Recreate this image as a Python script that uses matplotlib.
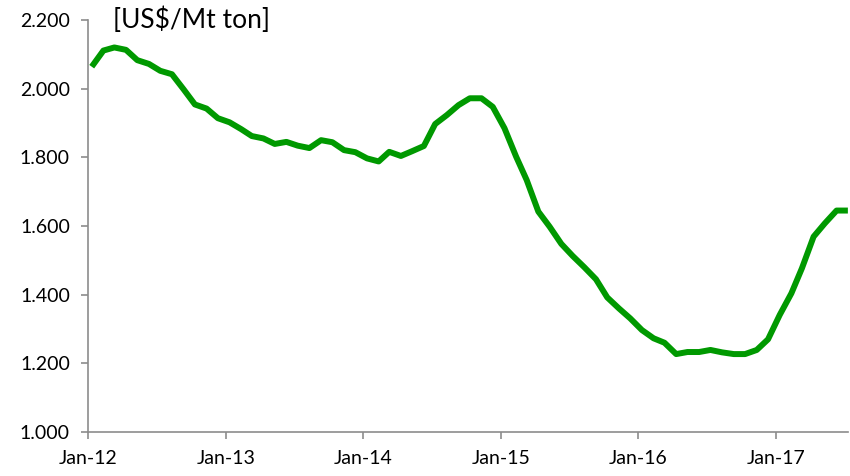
import pandas as pd
import matplotlib.pyplot as plt
import matplotlib.dates as mdates
from matplotlib.ticker import FuncFormatter

# monthly price, Jan-12 .. Jul-17
START = '2012-01-01'
prices = [
    2064, 2111, 2120, 2113, 2083, 2072, 2052, 2042, 1998, 1954, 1942, 1914,
    1902, 1882, 1862, 1855, 1839, 1845, 1834, 1827, 1850, 1844, 1821, 1815,
    1797, 1788, 1816, 1804, 1818, 1833, 1897, 1923, 1952, 1972, 1972, 1947,
    1885, 1802, 1734, 1642, 1598, 1548, 1513, 1480, 1445, 1392, 1360, 1331,
    1297, 1273, 1260, 1227, 1233, 1233, 1239, 1232, 1227, 1227, 1239, 1270,
    1341, 1404, 1477, 1569, 1608, 1645, 1645,
]
dates = pd.date_range(START, periods=len(prices), freq='MS') + pd.Timedelta(days=10)
y_ticks = [1000, 1200, 1400, 1600, 1800, 2000, 2200]
unit_label = '[US$/Mt ton]'

plt.rcParams['font.family'] = ['Lato', 'DejaVu Sans']

fig = plt.figure(figsize=(8.5, 4.76), dpi=100)
ax = fig.add_axes([0.1035, 0.0924, 0.894, 0.8656])

ax.plot(dates, prices, color='#009900', lw=4.3, solid_joinstyle='round',
        solid_capstyle='butt')

ax.set_ylim(1000, 2200)
ax.set_yticks(y_ticks)
ax.yaxis.set_major_formatter(FuncFormatter(lambda v, p: f'{v:,.0f}'.replace(',', '.')))

ax.set_xlim(pd.Timestamp(START), dates[-1])
ax.xaxis.set_major_locator(mdates.YearLocator())
ax.xaxis.set_major_formatter(mdates.DateFormatter('%b-%y'))

for s in ['top', 'right']:
    ax.spines[s].set_visible(False)
for s in ['left', 'bottom']:
    ax.spines[s].set_color('#8c8c8c')
    ax.spines[s].set_linewidth(1.2)

ax.tick_params(axis='both', colors='#8c8c8c', labelcolor='black',
               labelsize=14, length=5, width=1.2, direction='out')
ax.tick_params(axis='x', pad=8)
ax.tick_params(axis='y', pad=8)

fig.text(113 / 850, 1 - 20 / 476, unit_label, fontsize=19, va='center', ha='left')

plt.savefig('out.png', dpi=100)
